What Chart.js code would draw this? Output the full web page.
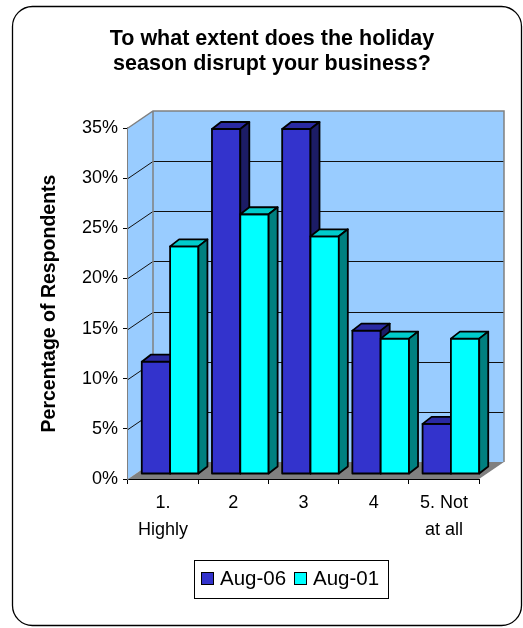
<!DOCTYPE html>
<html><head><meta charset="utf-8">
<script src="https://cdn.jsdelivr.net/npm/chart.js@4/dist/chart.umd.min.js"></script>
<style>html,body{margin:0;padding:0;background:#fff;overflow:hidden}#wrap{width:523px;height:628px;position:relative}</style>
</head><body><div id="wrap"><canvas id="c" width="523" height="628"></canvas></div>
<script>
// ---- data ----
const categories = [['1.', 'Highly'], '2', '3', '4', ['5. Not', 'at all']];
const seriesNames = ['Aug-06', 'Aug-01'];
const aug06 = [11.2, 34.4, 34.4, 14.3, 5.0];
const aug01 = [22.7, 25.9, 23.7, 13.5, 13.5];
const yTicks = [0, 5, 10, 15, 20, 25, 30, 35];
const titleLines = ['To what extent does the holiday', 'season disrupt your business?'];
const yTitle = 'Percentage of Respondents';

// ---- style ----
const FONT = "'Liberation Sans', Arial, sans-serif";
const FACE = [
  {front: '#3333CC', top: '#2A2AA3', side: '#1C1C66'},
  {front: '#00FFFF', top: '#00CCCC', side: '#008080'}
];
const DEPTH = {x: 25, y: -17};
const BAR_SHIFT = {x: 7, y: -5};
const BAR_DEPTH = {x: 9, y: -7};

function poly(ctx, pts) {
  ctx.beginPath();
  ctx.moveTo(pts[0][0], pts[0][1]);
  for (let i = 1; i < pts.length; i++) ctx.lineTo(pts[i][0], pts[i][1]);
  ctx.closePath();
}
function rrect(ctx, x, y, w, h, r) {
  ctx.beginPath();
  ctx.moveTo(x + r, y);
  ctx.lineTo(x + w - r, y); ctx.arcTo(x + w, y, x + w, y + r, r);
  ctx.lineTo(x + w, y + h - r); ctx.arcTo(x + w, y + h, x + w - r, y + h, r);
  ctx.lineTo(x + r, y + h); ctx.arcTo(x, y + h, x, y + h - r, r);
  ctx.lineTo(x, y + r); ctx.arcTo(x, y, x + r, y, r);
  ctx.closePath();
}

const threeD = {
  id: 'threeD',
  beforeDraw(chart) {
    const ctx = chart.ctx;
    ctx.save();
    ctx.fillStyle = '#fff';
    ctx.fillRect(0, 0, chart.width, chart.height);
    rrect(ctx, 12.5, 6.5, 509, 619, 20);
    ctx.lineWidth = 1.3; ctx.strokeStyle = '#000'; ctx.stroke();
    ctx.restore();
  },
  beforeDatasetsDraw(chart) {
    const ctx = chart.ctx, a = chart.chartArea, ys = chart.scales.y;
    const dx = DEPTH.x, dy = DEPTH.y;
    ctx.save();
    // back wall
    ctx.fillStyle = '#99CCFF';
    ctx.fillRect(a.left + dx, a.top + dy, a.right - a.left, a.bottom - a.top);
    // side wall
    poly(ctx, [[a.left, a.bottom], [a.left, a.top], [a.left + dx, a.top + dy], [a.left + dx, a.bottom + dy]]);
    ctx.fill();
    // floor
    poly(ctx, [[a.left, a.bottom], [a.right, a.bottom], [a.right + dx, a.bottom + dy], [a.left + dx, a.bottom + dy]]);
    ctx.fillStyle = '#808080'; ctx.fill();
    // gridlines
    ctx.strokeStyle = '#111'; ctx.lineWidth = 1;
    yTicks.forEach(v => {
      if (v === 0 || v === yTicks[yTicks.length - 1]) return;
      const py = Math.round(ys.getPixelForValue(v)) + 0.5;
      ctx.beginPath();
      ctx.moveTo(a.left, py);
      ctx.lineTo(a.left + dx, py + dy);
      ctx.lineTo(a.right + dx, py + dy);
      ctx.stroke();
    });
    // wall borders
    ctx.strokeStyle = '#808080'; ctx.lineWidth = 1.5;
    ctx.beginPath();
    ctx.moveTo(a.left, a.top);
    ctx.lineTo(a.left + dx, a.top + dy);
    ctx.lineTo(a.right + dx, a.top + dy);
    ctx.lineTo(a.right + dx, a.bottom + dy);
    ctx.moveTo(a.left + dx, a.top + dy);
    ctx.lineTo(a.left + dx, a.bottom + dy);
    ctx.stroke();
    // 3D bars
    ctx.lineWidth = 1.8; ctx.strokeStyle = '#000'; ctx.lineJoin = 'round';
    const n = chart.data.labels.length;
    for (let i = 0; i < n; i++) {
      chart.data.datasets.forEach((ds, d) => {
        const el = chart.getDatasetMeta(d).data[i];
        const p = el.getProps(['x', 'y', 'base', 'width'], true);
        const l = p.x - p.width / 2 + BAR_SHIFT.x, r = p.x + p.width / 2 + BAR_SHIFT.x;
        const t = p.y + BAR_SHIFT.y, b = p.base + BAR_SHIFT.y;
        const bx = BAR_DEPTH.x, by = BAR_DEPTH.y, f = FACE[d];
        poly(ctx, [[l, t], [r, t], [r, b], [l, b]]);
        ctx.fillStyle = f.front; ctx.fill(); ctx.stroke();
        poly(ctx, [[l, t], [r, t], [r + bx, t + by], [l + bx, t + by]]);
        ctx.fillStyle = f.top; ctx.fill(); ctx.stroke();
        poly(ctx, [[r, t], [r + bx, t + by], [r + bx, b + by], [r, b]]);
        ctx.fillStyle = f.side; ctx.fill(); ctx.stroke();
      });
    }
    ctx.restore();
    return false;
  },
  afterDraw(chart) {
    const ctx = chart.ctx;
    ctx.save();
    // title
    ctx.fillStyle = '#000';
    ctx.font = 'bold 21.5px ' + FONT;
    ctx.textAlign = 'center'; ctx.textBaseline = 'alphabetic';
    ctx.fillText(titleLines[0], 272, 44.5);
    ctx.fillText(titleLines[1], 272, 69.5);
    // legend
    const bx = 194.5, by = 560.5, bw = 194, bh = 38;
    ctx.strokeStyle = '#000'; ctx.lineWidth = 1;
    ctx.strokeRect(bx, by, bw, bh);
    ctx.font = '20.5px ' + FONT; ctx.textAlign = 'left';
    const sq = [201.5, 294.5], tx = [220, 313];
    chart.data.datasets.forEach((ds, d) => {
      ctx.fillStyle = ds.backgroundColor;
      ctx.fillRect(sq[d], 572.5, 12, 12);
      ctx.strokeRect(sq[d], 572.5, 12, 12);
      ctx.fillStyle = '#000';
      ctx.fillText(ds.label, tx[d], 584.5);
    });
    ctx.restore();
  }
};

new Chart(document.getElementById('c'), {
  type: 'bar',
  data: {
    labels: categories,
    datasets: [
      {label: seriesNames[0], data: aug06, backgroundColor: FACE[0].front},
      {label: seriesNames[1], data: aug01, backgroundColor: FACE[1].front}
    ]
  },
  options: {
    responsive: false,
    devicePixelRatio: 1,
    animation: false,
    datasets: {bar: {categoryPercentage: 0.807, barPercentage: 1.0}},
    layout: {padding: {left: 35, top: 128, right: 44, bottom: 0}},
    plugins: {legend: {display: false}, title: {display: false}, tooltip: {enabled: false}},
    scales: {
      x: {
        z: 1,
        afterFit(s) { s.height = 149; },
        grid: {display: true, drawOnChartArea: false, drawTicks: true, tickLength: 5, color: '#000', offset: true},
        border: {display: true, color: '#000', width: 1},
        ticks: {color: '#000', padding: 6, maxRotation: 0, autoSkip: false, font: {family: FONT, size: 18, lineHeight: 1.47}}
      },
      y: {
        z: 1,
        min: 0, max: 35,
        afterFit(s) { s.width = 93; },
        grid: {display: true, drawOnChartArea: false, drawTicks: true, tickLength: 5, color: '#000'},
        border: {display: true, color: '#808080', width: 1.5},
        ticks: {stepSize: 5, color: '#000', padding: 5, font: {family: FONT, size: 18}, callback: v => v + '%'},
        title: {display: true, text: yTitle, color: '#000', padding: {top: 3, bottom: 0}, font: {family: FONT, size: 19.5, weight: 'bold'}}
      }
    }
  },
  plugins: [threeD]
});
</script>
</body></html>
